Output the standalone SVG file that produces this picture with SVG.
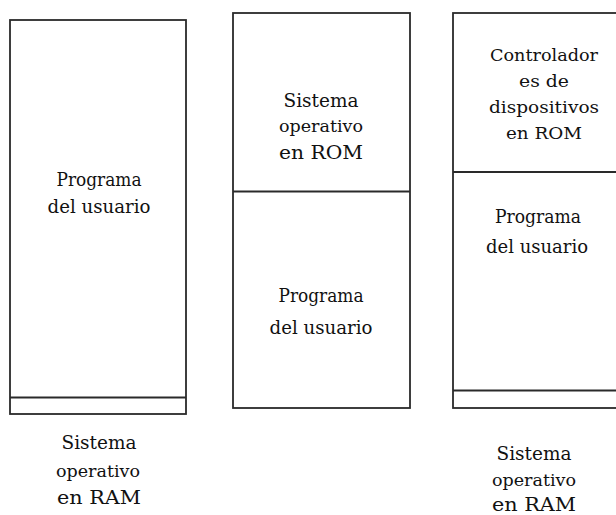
<svg xmlns="http://www.w3.org/2000/svg" width="616" height="515" viewBox="0 0 616 515">
<style>
.b{fill:#fff;stroke:#2a2a2a;stroke-width:1.8}
.l{stroke:#2a2a2a;stroke-width:1.8}
.tx{font-family:'DejaVu Serif','Liberation Serif',serif;fill:#111;text-anchor:middle}
.t{font-size:19px}
.s{font-size:16px}
</style>
<rect width="616" height="515" fill="#fff"/>
<g id="mem1">
<rect class="b" x="10" y="20" width="176" height="394"/>
<line class="l" x1="10" y1="397.5" x2="186" y2="397.5"/>
<g class="tx">
<text class="t" x="99" y="186" textLength="85" lengthAdjust="spacingAndGlyphs">Programa</text>
<text class="t" x="99" y="213" textLength="103" lengthAdjust="spacingAndGlyphs">del usuario</text>
</g>
</g>
<g id="mem1-os" class="tx">
<text class="t" x="99" y="449" textLength="75" lengthAdjust="spacingAndGlyphs">Sistema</text>
<text class="s" x="98" y="477" textLength="84" lengthAdjust="spacingAndGlyphs">operativo</text>
<text class="t" x="99" y="504" textLength="84" lengthAdjust="spacingAndGlyphs">en RAM</text>
</g>
<g id="mem2">
<rect class="b" x="233" y="13" width="177" height="395"/>
<line class="l" x1="233" y1="191.5" x2="410" y2="191.5"/>
<g class="tx">
<text class="t" x="321" y="107" textLength="75" lengthAdjust="spacingAndGlyphs">Sistema</text>
<text class="s" x="321" y="132" textLength="84" lengthAdjust="spacingAndGlyphs">operativo</text>
<text class="t" x="321" y="159" textLength="84" lengthAdjust="spacingAndGlyphs">en ROM</text>
<text class="t" x="321" y="302" textLength="85" lengthAdjust="spacingAndGlyphs">Programa</text>
<text class="t" x="321" y="334" textLength="103" lengthAdjust="spacingAndGlyphs">del usuario</text>
</g>
</g>
<g id="mem3">
<rect class="b" x="453" y="13" width="200" height="395"/>
<line class="l" x1="453" y1="172" x2="616" y2="172"/>
<line class="l" x1="453" y1="390.5" x2="616" y2="390.5"/>
<g class="tx">
<text class="s" x="544" y="61" textLength="108" lengthAdjust="spacingAndGlyphs">Controlador</text>
<text class="s" x="544" y="87" textLength="50" lengthAdjust="spacingAndGlyphs">es de</text>
<text class="s" x="544" y="113" textLength="110" lengthAdjust="spacingAndGlyphs">dispositivos</text>
<text class="s" x="544" y="139" textLength="76" lengthAdjust="spacingAndGlyphs">en ROM</text>
<text class="t" x="538" y="223" textLength="86" lengthAdjust="spacingAndGlyphs">Programa</text>
<text class="t" x="537" y="253" textLength="102" lengthAdjust="spacingAndGlyphs">del usuario</text>
</g>
</g>
<g id="mem3-os" class="tx">
<text class="t" x="534" y="460" textLength="75" lengthAdjust="spacingAndGlyphs">Sistema</text>
<text class="s" x="534" y="486" textLength="84" lengthAdjust="spacingAndGlyphs">operativo</text>
<text class="t" x="534" y="511" textLength="84" lengthAdjust="spacingAndGlyphs">en RAM</text>
</g>
<g id="connectors"/>
</svg>
